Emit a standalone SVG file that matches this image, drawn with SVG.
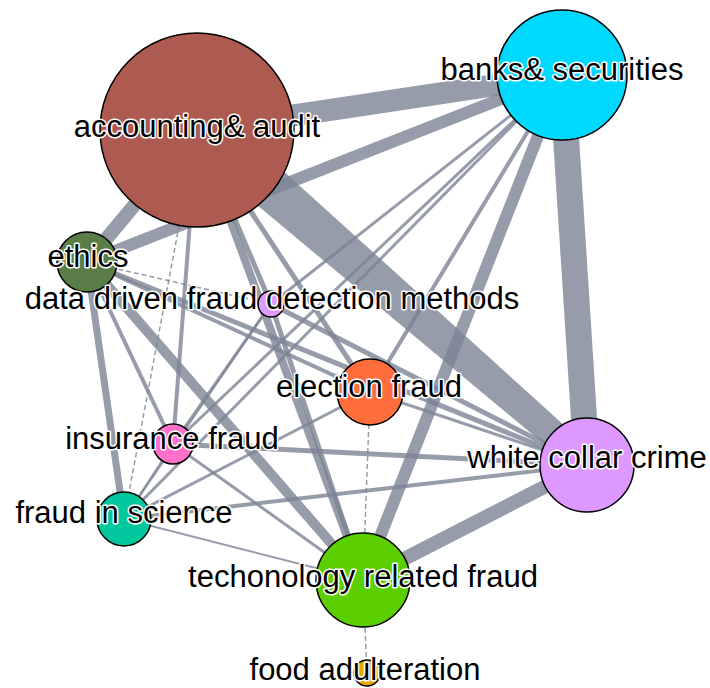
<svg xmlns="http://www.w3.org/2000/svg" width="710" height="688" viewBox="0 0 710 688">
<style>
.e{stroke:#7c8395;stroke-opacity:0.8;stroke-linecap:butt;fill:none}
.f{fill:#7c8395;fill-opacity:0.8;stroke:none}
.d{stroke-dasharray:5 3}
.n{stroke:#000;stroke-width:1.5}
.t{font-family:"Liberation Sans",Arial,sans-serif;font-size:31px;fill:#000;stroke:#fff;stroke-width:3;stroke-linejoin:round;paint-order:stroke;text-anchor:middle}
</style>
<rect width="710" height="688" fill="#fff"/>
<g id="edges">
<path class="f" d="M186,146 L580,474 L597,455 L216,110 Z"/>
<line class="e" x1="197" y1="130" x2="562" y2="75" stroke-width="22"/>
<line class="e" x1="197" y1="130" x2="87" y2="262" stroke-width="14"/>
<line class="e" x1="197" y1="130" x2="363" y2="580" stroke-width="8"/>
<line class="e" x1="197" y1="130" x2="370" y2="392" stroke-width="5"/>
<line class="e" x1="197" y1="130" x2="271" y2="304" stroke-width="5"/>
<line class="e" x1="197" y1="130" x2="173" y2="444" stroke-width="4"/>
<line class="e d" x1="197" y1="130" x2="124" y2="519" stroke-width="1.5"/>
<line class="e" x1="562" y1="75" x2="87" y2="262" stroke-width="12"/>
<line class="e" x1="562" y1="75" x2="587" y2="465" stroke-width="26"/>
<line class="e" x1="562" y1="75" x2="363" y2="580" stroke-width="12"/>
<line class="e" x1="562" y1="75" x2="370" y2="392" stroke-width="4"/>
<line class="e" x1="562" y1="75" x2="271" y2="304" stroke-width="3"/>
<line class="e" x1="562" y1="75" x2="173" y2="444" stroke-width="3"/>
<line class="e" x1="562" y1="75" x2="124" y2="519" stroke-width="3"/>
<line class="e d" x1="87" y1="262" x2="271" y2="304" stroke-width="1.5"/>
<line class="e" x1="87" y1="262" x2="363" y2="580" stroke-width="10"/>
<line class="e" x1="87" y1="262" x2="124" y2="519" stroke-width="7"/>
<line class="e" x1="87" y1="262" x2="173" y2="444" stroke-width="4"/>
<line class="e" x1="87" y1="262" x2="587" y2="465" stroke-width="5"/>
<line class="e" x1="87" y1="262" x2="370" y2="392" stroke-width="4"/>
<line class="e" x1="271" y1="304" x2="363" y2="580" stroke-width="5"/>
<line class="e" x1="271" y1="304" x2="587" y2="465" stroke-width="5"/>
<line class="e" x1="271" y1="304" x2="173" y2="444" stroke-width="3"/>
<line class="e" x1="271" y1="304" x2="124" y2="519" stroke-width="2"/>
<line class="e" x1="370" y1="392" x2="587" y2="465" stroke-width="3"/>
<line class="e d" x1="370" y1="392" x2="363" y2="580" stroke-width="1.5"/>
<line class="e" x1="370" y1="392" x2="124" y2="519" stroke-width="3"/>
<line class="e" x1="173" y1="444" x2="587" y2="465" stroke-width="5"/>
<line class="e" x1="124" y1="519" x2="587" y2="465" stroke-width="4"/>
<line class="e" x1="363" y1="580" x2="587" y2="465" stroke-width="14"/>
<line class="e" x1="173" y1="444" x2="363" y2="580" stroke-width="3"/>
<line class="e" x1="124" y1="519" x2="363" y2="580" stroke-width="2"/>
<line class="e d" x1="363" y1="580" x2="367" y2="673" stroke-width="1.5"/>
<line class="e" x1="173" y1="444" x2="124" y2="519" stroke-width="2"/>
</g>
<g id="node-accounting"><circle class="n" cx="197" cy="130" r="97" fill="#ad5a50"/><text class="t" x="197" y="137">accounting&amp; audit</text></g>
<g id="node-banks"><circle class="n" cx="562" cy="75" r="65" fill="#00d9ff"/><text class="t" x="562" y="80">banks&amp; securities</text></g>
<g id="node-ethics"><circle class="n" cx="87" cy="262" r="30" fill="#5a7d48"/><text class="t" x="88" y="267">ethics</text></g>
<g id="node-data"><circle class="n" cx="271" cy="304" r="13" fill="#dd9cff"/><text class="t" x="272" y="309">data driven fraud detection methods</text></g>
<g id="node-election"><circle class="n" cx="370" cy="392" r="33" fill="#ff6e3c"/><text class="t" x="369" y="397">election fraud</text></g>
<g id="node-insurance"><circle class="n" cx="173" cy="444" r="20" fill="#ff70c8"/><text class="t" x="172" y="449">insurance fraud</text></g>
<g id="node-whitecollar"><circle class="n" cx="587" cy="465" r="47" fill="#dd99ff"/><text class="t" x="587" y="468">white collar crime</text></g>
<g id="node-science"><circle class="n" cx="124" cy="519" r="27" fill="#00c89c"/><text class="t" x="124" y="523">fraud in science</text></g>
<g id="node-technology"><circle class="n" cx="363" cy="580" r="47" fill="#5ccf00"/><text class="t" x="363" y="587">techonology related fraud</text></g>
<g id="node-food"><circle class="n" cx="367" cy="673" r="13" fill="#e8a800"/><text class="t" x="365" y="680">food adulteration</text></g>
</svg>
